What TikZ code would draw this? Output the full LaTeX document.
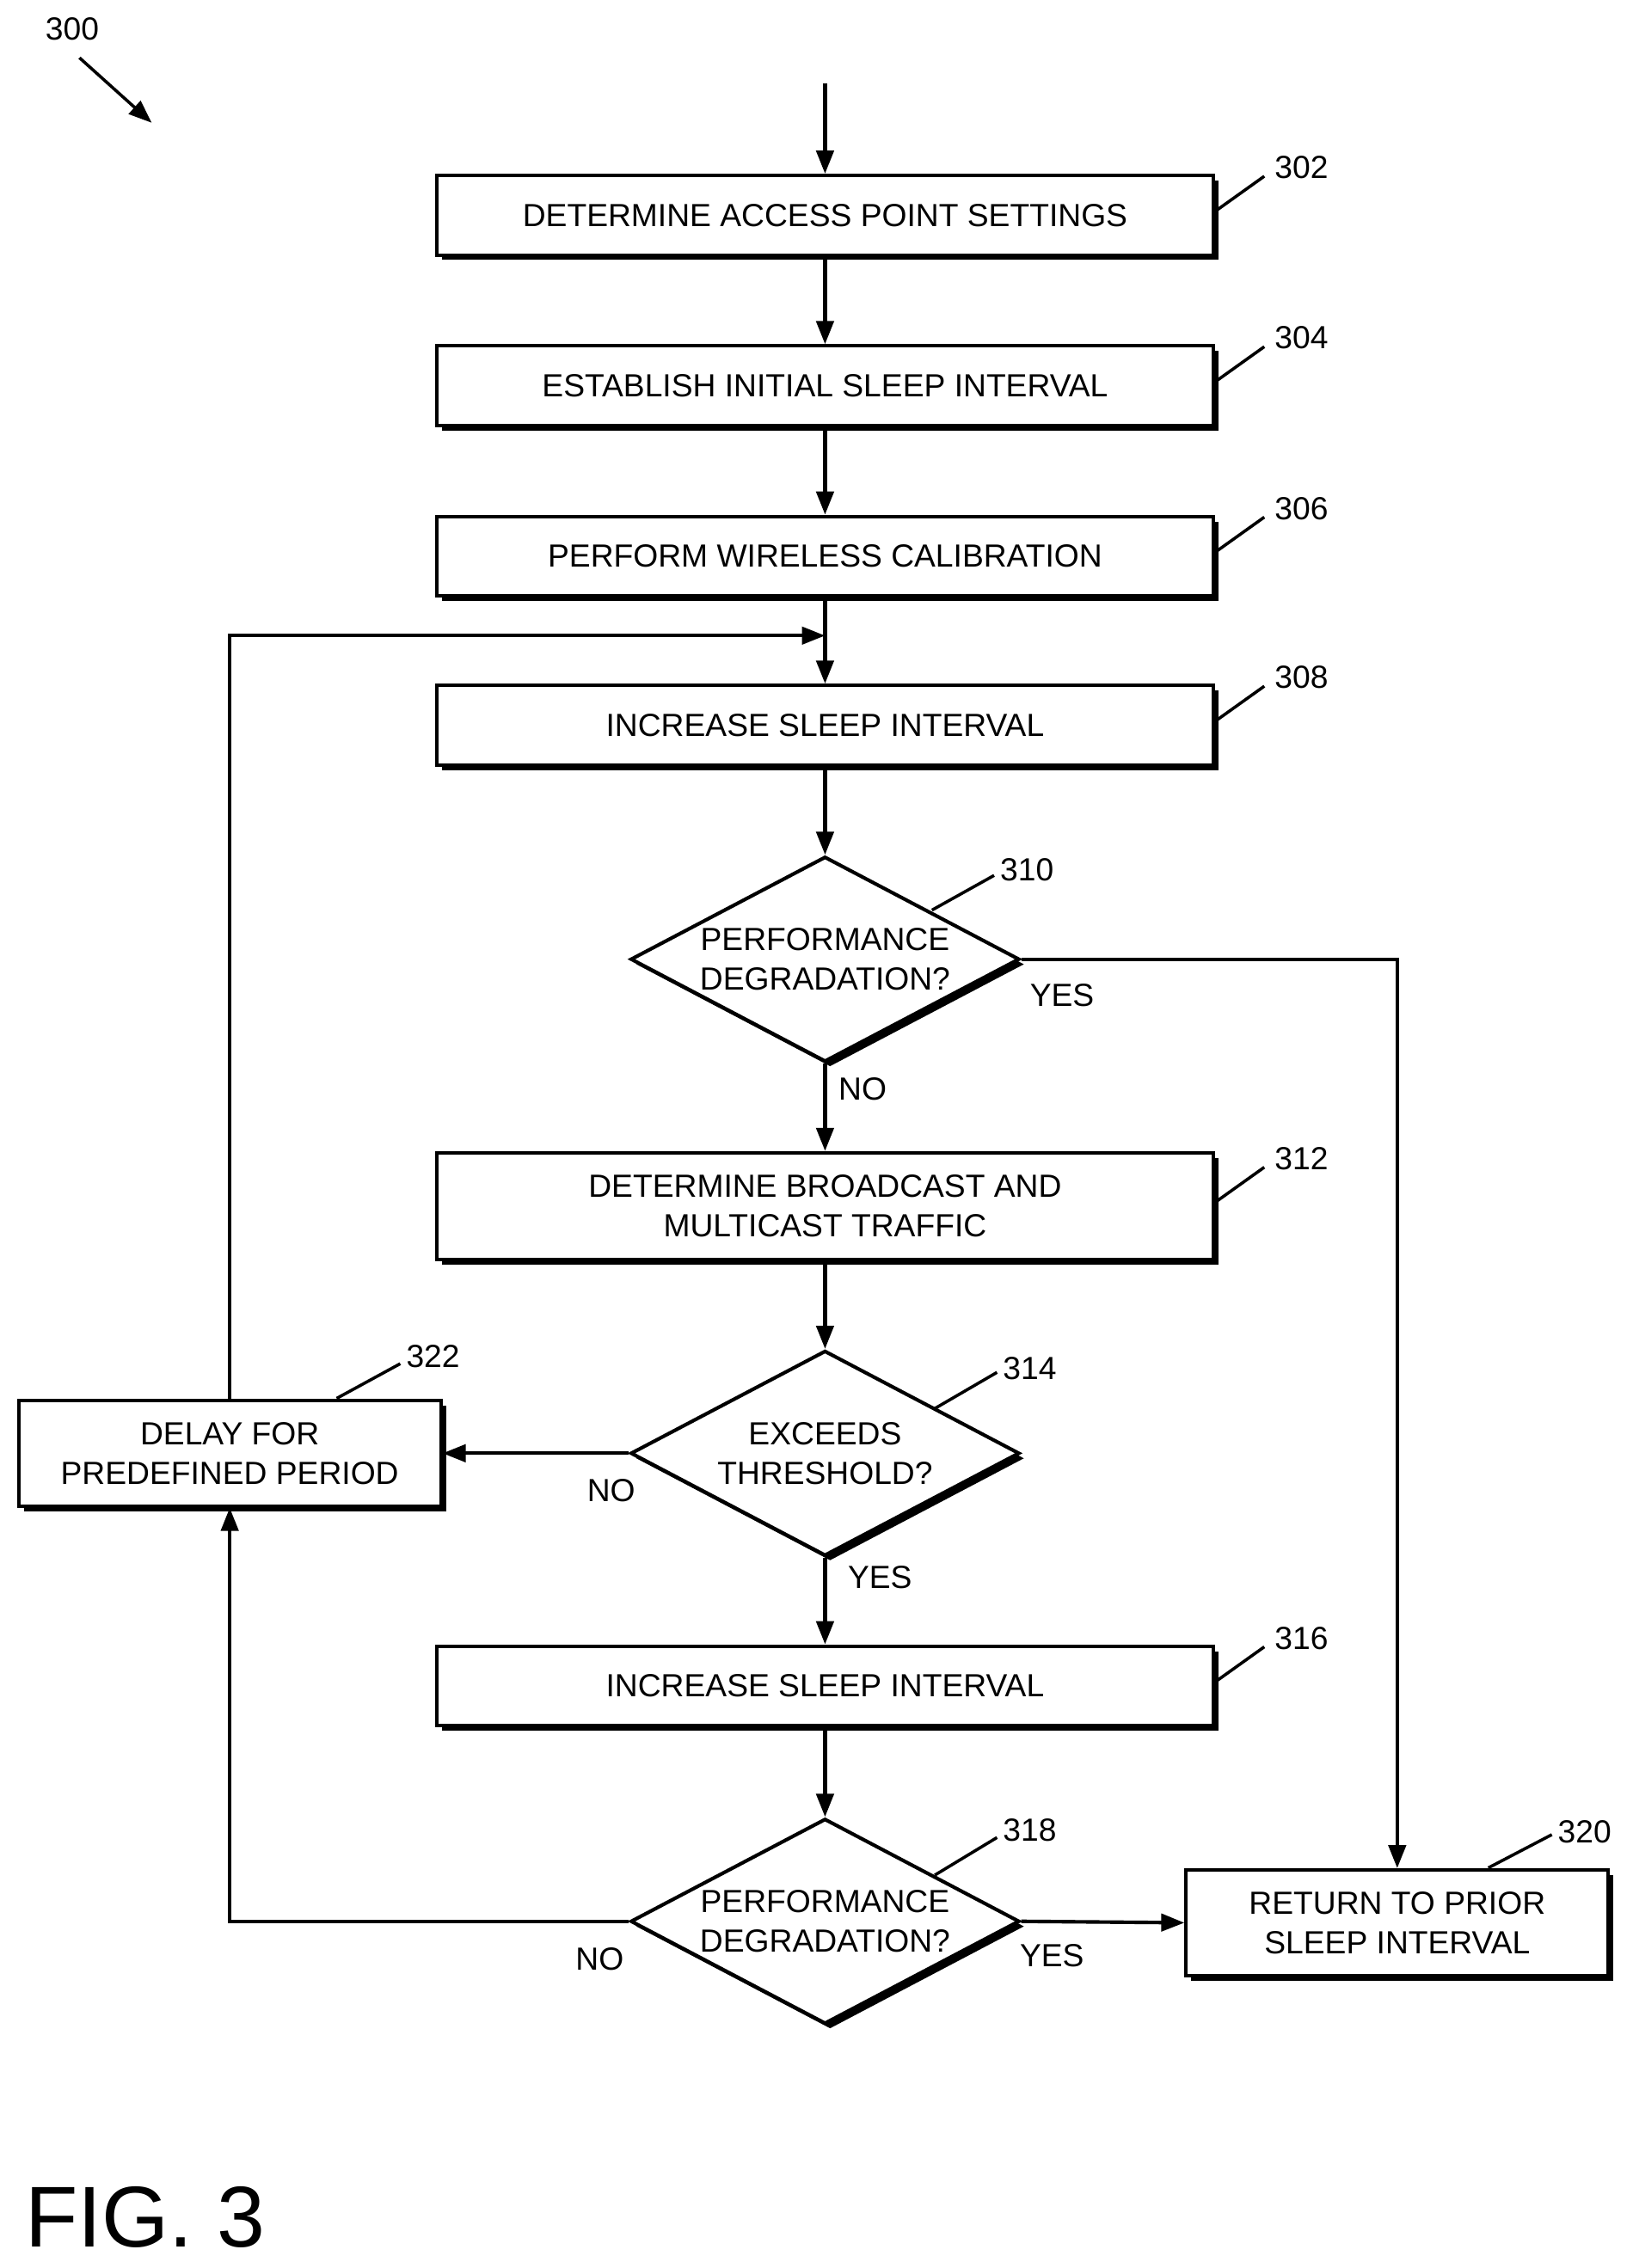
\documentclass[tikz,border=0pt]{standalone}
\usepackage{fontspec}
\setmainfont{Liberation Sans}
\usetikzlibrary{shapes.geometric,shadows,arrows.meta}
\tikzset{
  proc/.style={draw, fill=white, line width=0.7pt, minimum width=5.37cm, align=center,
    font=\fontsize{6.3}{7.8}\selectfont,
    drop shadow={shadow xshift=0.035cm, shadow yshift=-0.035cm, opacity=1, fill=black}},
  test/.style={diamond, draw, fill=white, line width=0.7pt, minimum width=2.69cm,
    minimum height=1.42cm, inner sep=-6pt, aspect=1.9, align=center,
    font=\fontsize{6.3}{7.8}\selectfont,
    drop shadow={shadow xshift=0.035cm, shadow yshift=-0.035cm, opacity=1, fill=black}},
  flow/.style={line width=0.7pt, -{Triangle[length=0.16cm,width=0.12cm]}},
  lead/.style={line width=0.6pt},
  tag/.style={font=\fontsize{6.3}{8}\selectfont, inner sep=1pt},
}
\begin{document}
\begin{tikzpicture}[x=0.01cm,y=-0.01cm]
\useasboundingbox (0,0) rectangle (1130,1570);
% steps
\node[proc, minimum height=0.55cm] (n302) at (571,149) {DETERMINE ACCESS POINT SETTINGS};
\node[proc, minimum height=0.55cm] (n304) at (571,267) {ESTABLISH INITIAL SLEEP INTERVAL};
\node[proc, minimum height=0.55cm] (n306) at (571,385) {PERFORM WIRELESS CALIBRATION};
\node[proc, minimum height=0.55cm] (n308) at (571,502) {INCREASE SLEEP INTERVAL};
\node[test] (n310) at (571,664) {PERFORMANCE\\DEGRADATION?};
\node[proc, minimum height=0.74cm] (n312) at (571,835) {DETERMINE BROADCAST AND\\MULTICAST TRAFFIC};
\node[test] (n314) at (571,1006) {EXCEEDS\\THRESHOLD?};
\node[proc, minimum height=0.55cm] (n316) at (571,1167) {INCREASE SLEEP INTERVAL};
\node[test] (n318) at (571,1330) {PERFORMANCE\\DEGRADATION?};
\node[proc, minimum width=2.92cm, minimum height=0.73cm] (n320) at (967,1331) {RETURN TO PRIOR\\SLEEP INTERVAL};
\node[proc, minimum width=2.92cm, minimum height=0.73cm] (n322) at (159,1006) {DELAY FOR\\PREDEFINED PERIOD};
% connectors
\coordinate (start) at (571,58);
\coordinate (join) at (571,440);
\draw[flow] (start) -- (n302);
\draw[flow] (n302) -- (n304);
\draw[flow] (n304) -- (n306);
\draw[flow] (n306) -- (n308);
\draw[flow] (n308) -- (n310);
\draw[flow] (n310) -- (n312);
\draw[flow] (n312) -- (n314);
\draw[flow] (n314) -- (n316);
\draw[flow] (n316) -- (n318);
\draw[flow] (n310.east) -| (n320.north);
\draw[flow] (n318.east) -- (n320.west);
\draw[flow] (n314.west) -- (n322.east);
\draw[flow] (n318.west) -| (n322.south);
\draw[flow] (n322.north) |- (join);
% branch labels
\node[tag] at (735,689) {YES};
\node[tag] at (597,754) {NO};
\node[tag] at (423,1032) {NO};
\node[tag] at (609,1092) {YES};
\node[tag] at (415,1356) {NO};
\node[tag] at (728,1354) {YES};
% reference numerals
\foreach \n/\x/\y in {302/840/147, 304/840/265, 306/840/383, 308/840/500, 312/840/833, 316/840/1165} {
  \draw[lead] (\x,\y) -- (\x+35,\y-25);
  \node[tag, anchor=west] at (\x+38,\y-31) {\n};
}
\draw[lead] (645,630) -- (688,606); \node[tag, anchor=west] at (688,602) {310};
\draw[lead] (647,975) -- (690,950); \node[tag, anchor=west] at (690,947) {314};
\draw[lead] (647,1298) -- (690,1272); \node[tag, anchor=west] at (690,1267) {318};
\draw[lead] (1030,1293) -- (1074,1270); \node[tag, anchor=west] at (1074,1268) {320};
\draw[lead] (233,968) -- (277,944); \node[tag, anchor=west] at (277,939) {322};
\node[tag] (n300) at (50,20) {300};
\coordinate (p300) at (105,85);
\draw[flow, line width=0.6pt] (55,40) -- (p300);
\node[font=\fontsize{17}{20}\selectfont, anchor=west] (fig) at (5,1535) {FIG. 3};
\end{tikzpicture}
\end{document}
